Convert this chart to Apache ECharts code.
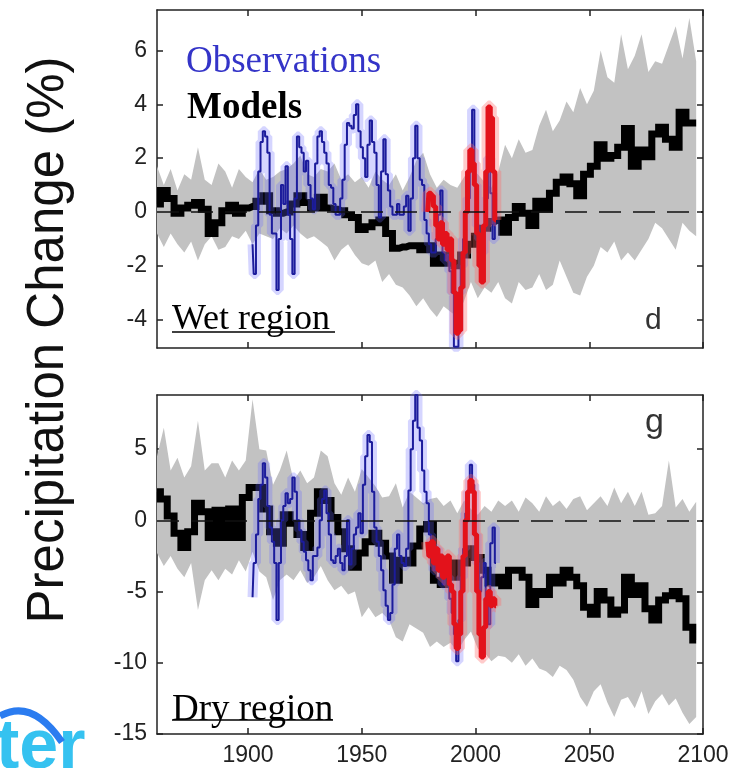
<!DOCTYPE html>
<html>
<head>
<meta charset="utf-8">
<script src="https://cdn.jsdelivr.net/npm/echarts@6.0.0/dist/echarts.min.js"></script>
<style>
html,body{margin:0;padding:0;background:#fff;}
#chart{width:739px;height:768px;}
</style>
</head>
<body>
<div id="chart"></div>
<script>
/* model years (3-yr steps) */
var years = [1860,1863,1866,1869,1872,1875,1878,1881,1884,1887,
    1890,1893,1896,1899,1902,1905,1908,1911,1914,1917,
    1920,1923,1926,1929,1932,1935,1938,1941,1944,1947,
    1950,1953,1956,1959,1962,1965,1968,1971,1974,1977,
    1980,1983,1986,1989,1992,1995,1998,2001,2004,2007,
    2010,2013,2016,2019,2022,2025,2028,2031,2034,2037,
    2040,2043,2046,2049,2052,2055,2058,2061,2064,2067,
    2070,2073,2076,2079,2082,2085,2088,2091,2094,2097];

/* wet region */
var wetModel = [0.3,0.8,0.5,-0.05,0.15,0.25,0.35,0.1,-0.8,-0.4,
    0.05,0.25,-0.05,0.15,0.2,0.4,0.6,0.05,-0.05,0.0,
    0.3,0.6,0.35,0.15,0.55,0.15,0.1,0.05,-0.1,-0.2,
    -0.65,-0.55,-0.4,-0.3,-0.8,-1.35,-1.3,-1.25,-1.25,-1.4,
    -1.25,-1.9,-1.6,-1.9,-2.0,-1.6,-1.2,-0.9,-0.6,-0.35,
    -0.3,-0.75,-0.2,0.2,-0.05,-0.5,0.4,0.1,0.7,1.1,
    1.3,1.05,0.6,1.4,1.7,2.5,2.0,2.1,2.4,3.1,
    1.7,2.3,2.05,2.9,3.15,2.7,2.4,3.7,3.3,3.3];
var wetHigh = [1.7,1.0,1.6,0.8,1.4,1.2,2.4,1.2,1.0,1.8,
    1.5,0.9,1.6,1.3,1.1,1.6,1.2,1.3,1.5,1.6,
    1.8,2.1,1.4,1.3,1.6,1.5,1.8,1.2,1.4,1.1,
    1.3,0.9,1.5,1.2,1.0,1.4,0.8,1.3,1.9,2.2,
    1.4,0.9,1.2,1.0,0.9,1.3,1.6,1.4,1.1,0.9,
    1.5,2.5,2.0,2.7,2.2,2.3,3.2,3.8,3.0,3.4,
    4.1,3.7,4.6,4.0,4.5,6.0,5.0,4.8,6.6,5.3,
    5.8,6.6,5.2,5.6,5.5,6.2,6.9,5.7,7.2,5.6];
var wetLow = [-0.8,-1.3,-0.8,-1.2,-1.5,-1.1,-1.8,-1.2,-0.9,-1.4,
    -1.3,-0.9,-1.0,-0.7,-1.2,-0.8,-0.9,-1.0,-0.6,-0.8,
    -0.5,-0.8,-1.0,-0.9,-1.1,-1.3,-1.8,-1.4,-1.2,-1.6,
    -1.9,-2.0,-1.8,-2.6,-2.3,-2.7,-2.8,-3.1,-3.5,-3.2,
    -3.6,-3.9,-3.5,-3.7,-3.9,-3.3,-2.6,-3.2,-2.8,-3.0,
    -2.6,-3.2,-3.4,-2.6,-2.9,-2.8,-2.3,-2.9,-2.7,-1.8,
    -2.4,-3.0,-3.1,-2.4,-2.0,-1.3,-1.5,-1.1,-1.8,-1.5,
    -1.8,-1.4,-1.0,-0.4,-0.6,-1.0,-1.4,-0.4,-0.7,-0.9];

/* observation years (yearly) */
var obsYears = [1902,1903,1904,1905,1906,1907,1908,1909,1910,1911,
    1912,1913,1914,1915,1916,1917,1918,1919,1920,1921,
    1922,1923,1924,1925,1926,1927,1928,1929,1930,1931,
    1932,1933,1934,1935,1936,1937,1938,1939,1940,1941,
    1942,1943,1944,1945,1946,1947,1948,1949,1950,1951,
    1952,1953,1954,1955,1956,1957,1958,1959,1960,1961,
    1962,1963,1964,1965,1966,1967,1968,1969,1970,1971,
    1972,1973,1974,1975,1976,1977,1978,1979,1980,1981,
    1982,1983,1984,1985,1986,1987,1988,1989,1990,1991,
    1992,1993,1994,1995,1996,1997,1998,1999,2000,2001,
    2002,2003,2004,2005,2006,2007,2008,2009];
var wetObs = [-1.2,-2.3,-0.5,1.5,2.6,3.0,2.8,2.2,-0.1,-0.8,
    -0.8,-2.9,-1.0,1.0,0.3,1.7,-0.1,-1.0,-2.3,0.5,
    2.8,2.4,2.2,1.5,1.9,1.0,0.5,0.1,1.8,2.8,
    3.0,2.6,2.2,1.8,1.0,0.9,0.3,-0.1,-0.1,0.5,
    1.2,2.5,3.3,3.2,3.1,3.6,4.0,3.0,2.4,2.0,
    1.3,2.5,3.4,2.6,2.2,1.0,-0.2,1.5,2.7,1.4,
    0.8,0.2,-0.1,-0.1,0.3,-0.1,-0.1,0.2,0.6,-0.7,
    0.5,2.0,3.2,2.0,1.2,1.0,-0.3,-0.8,-1.2,-1.5,
    -1.5,-1.0,-0.1,0.8,-1.5,-1.8,-1.6,-2.2,-3.0,-5.0,
    -5.0,-3.0,-2.0,-1.0,0.0,0.5,1.5,3.8,1.0,-0.5,
    -1.0,-1.5,-0.5,0.5,2.0,0.7,-1.0,0.0];

/* second observation set (red) */
var redYears = [1979,1980,1981,1982,1983,1984,1985,1986,1987,1988,
    1989,1990,1991,1992,1993,1994,1995,1996,1997,1998,
    1999,2000,2001,2002,2003,2004,2005,2006,2007,2008,2009];
var wetRed = [0.0,0.7,0.6,0.2,-0.5,-1.0,-0.4,-1.2,-0.8,-1.4,
    -1.0,-1.8,-3.0,-4.5,-4.4,-2.8,-1.5,0.0,1.5,2.3,
    1.8,1.0,-0.8,-2.0,-2.6,-0.5,1.5,3.9,3.5,1.5,-0.3];

/* dry region */
var dryModel = [2.0,1.5,0.3,-0.9,-1.9,-0.8,1.2,0.6,-1.2,0.7,
    -1.2,0.8,-1.2,1.6,2.3,2.3,0.8,-0.8,-1.6,0.4,
    -0.2,-1.0,-1.9,0.5,2.0,1.4,0.2,-0.8,-2.0,-3.3,
    -2.3,-1.5,-0.9,-1.6,-2.5,-4.2,-2.8,-3.0,-1.8,-0.6,
    -0.3,-4.2,-4.5,-3.0,-4.0,-3.0,-2.0,-2.6,-3.5,-4.4,
    -4.0,-4.6,-3.5,-3.5,-4.0,-5.9,-5.0,-5.2,-4.0,-4.4,
    -3.5,-4.0,-4.6,-6.1,-6.6,-5.0,-5.6,-6.6,-6.3,-4.0,
    -5.2,-4.6,-6.2,-7.0,-5.6,-5.3,-5.0,-5.5,-7.5,-8.4];
var dryHigh = [4.5,6.5,3.5,4.4,3.0,3.8,7.0,3.5,4.0,4.0,
    3.0,4.2,3.5,4.2,8.5,5.0,4.9,2.5,3.5,4.9,
    2.8,3.5,2.6,3.0,4.9,4.5,2.6,1.8,3.0,2.0,
    3.6,3.0,2.4,1.6,1.7,2.6,0.9,2.0,1.6,1.2,
    1.5,1.6,1.0,1.4,0.5,1.4,0.8,0.4,1.0,0.6,
    1.4,1.0,1.4,0.6,1.6,1.2,0.6,1.7,1.0,1.4,
    0.8,1.5,1.7,0.7,1.2,1.7,1.0,2.3,1.2,2.0,
    1.0,2.0,0.4,0.5,1.0,4.2,0.9,1.5,0.6,1.3];
var dryLow = [-2.3,-3.2,-2.5,-3.4,-4.0,-3.0,-6.3,-4.2,-3.5,-4.2,
    -3.4,-3.8,-2.8,-3.6,-2.2,-3.6,-4.0,-5.6,-4.2,-3.8,
    -4.2,-3.5,-4.4,-4.0,-3.2,-4.2,-4.9,-4.6,-5.2,-5.0,
    -6.8,-6.1,-6.8,-6.5,-7.0,-8.2,-8.5,-7.3,-7.6,-7.9,
    -8.9,-8.5,-8.9,-8.6,-9.2,-8.4,-7.8,-9.0,-9.3,-9.9,
    -9.5,-9.6,-10.0,-9.4,-10.2,-9.7,-10.4,-10.6,-11.0,-10.2,
    -10.5,-11.2,-12.4,-13.1,-12.0,-11.5,-12.8,-13.8,-12.6,-12.4,
    -13.2,-12.0,-13.6,-12.7,-12.2,-13.0,-12.5,-13.5,-14.3,-13.8];
var dryObs = [-5.4,-3.0,-1.0,1.5,2.5,4.0,3.0,1.0,-0.5,-1.5,
    -3.0,-7.0,-3.0,0.0,1.0,1.9,1.2,1.5,3.0,2.0,
    0.0,-0.7,-1.5,-2.2,-2.8,-3.5,-4.2,-2.5,-2.5,-1.9,
    0.0,1.5,2.1,0.5,-1.0,-2.8,-3.0,-2.5,-2.0,-3.0,
    -3.5,-2.5,0.0,-3.1,-2.0,-1.0,-0.5,0.5,-0.9,2.5,
    4.5,6.0,5.5,2.0,-0.5,-1.5,-2.5,-3.5,-4.9,-6.0,
    -7.0,-6.5,-4.5,-2.0,-1.0,-2.5,-3.0,-3.2,-2.0,2.1,
    5.0,7.0,8.8,6.5,5.6,3.5,2.0,1.2,-1.0,-2.5,
    -3.5,-2.0,-2.5,-4.0,-4.5,-3.5,-4.0,-5.5,-6.5,-8.0,
    -9.9,-7.0,-4.0,-2.0,0.5,2.0,3.9,2.5,-1.0,-3.0,
    -5.0,-4.0,-3.0,-5.5,-7.3,-1.6,-0.5,-3.0];
var dryRed = [-1.5,-2.5,-1.5,-3.0,-2.0,-3.5,-2.5,-4.0,-3.0,-2.5,
    -4.5,-5.0,-7.3,-9.0,-8.0,-5.0,-2.5,0.0,2.0,2.8,
    2.0,-1.0,-5.0,-8.0,-9.6,-7.5,-5.5,-5.0,-6.0,-5.5,-6.0];

/* ticks */
var xTicks = [1900,1950,2000,2050,2100];
var wetTicks = [-4,-2,0,2,4,6];
var dryTicks = [-15,-10,-5,0,5];

function pairs(xs, ys){
    return xs.map(function(x, i){ return [x, ys[i]]; });
}

var sans = '"Liberation Sans", Arial, sans-serif';
var serif = '"Liberation Serif", "Times New Roman", serif';
var tickFont = {fontSize: 23, fontFamily: sans, color: '#222', formatter: function(v){ return String(v); }};
var boxLine = {show: true, onZero: false, lineStyle: {color: '#222', width: 1.5}};

function xAx(grid, pos, labels){
    return {
        type: 'value', gridIndex: grid, position: pos, min: 1860, max: 2100,
        axisLine: boxLine,
        axisTick: {show: true, inside: true, length: 6, customValues: xTicks, lineStyle: {color: '#222', width: 1.5}},
        axisLabel: labels ? Object.assign({show: true, margin: 10, customValues: xTicks}, tickFont) : {show: false},
        splitLine: {show: false}
    };
}
function yAx(grid, pos, min, max, ticks, labels){
    return {
        type: 'value', gridIndex: grid, position: pos, min: min, max: max,
        axisLine: boxLine,
        axisTick: {show: true, inside: true, length: 6, customValues: ticks, lineStyle: {color: '#222', width: 1.5}},
        axisLabel: labels ? Object.assign({show: true, margin: 10, customValues: ticks}, tickFont) : {show: false},
        splitLine: {show: false}
    };
}

/* gray model spread: one jagged polygon through hi then lo, placed via the axes */
function bandItem(hi, lo){
    return function(params, api){
        var top = [], bot = [];
        for (var i = 0; i < years.length; i++) {
            top.push(api.coord([years[i], hi[i]]));
            bot.unshift(api.coord([years[i], lo[i]]));
        }
        return {type: 'polygon', shape: {points: top.concat(bot)}, style: {fill: '#c2c2c2'}};
    };
}

/* one panel = gray band + model + two observation lines + zero line */
function panel(idx, model, hi, lo, obs, red){
    var ax = {xAxisIndex: idx * 2, yAxisIndex: idx * 2};
    var base = {type: 'line', symbol: 'none', step: 'middle', silent: true};
    return [
        Object.assign({}, ax, {
            type: 'custom', z: 1, silent: true, data: [[years[0], lo[0]]],
            renderItem: bandItem(hi, lo)
        }),
        Object.assign({}, base, ax, {
            z: 2, data: pairs(years, model),
            lineStyle: {width: 7, color: '#000', join: 'miter'},
            markLine: {
                silent: true, symbol: ['none', 'none'], z: 10, animation: false,
                label: {show: false},
                lineStyle: {type: [22, 12], color: '#111', width: 1.5},
                data: [{yAxis: 0}]
            }
        }),
        Object.assign({}, base, ax, {
            z: 3, data: pairs(obsYears, obs),
            lineStyle: {width: 10, color: 'rgba(105,105,255,0.28)'}
        }),
        Object.assign({}, base, ax, {
            z: 4, data: pairs(obsYears, obs),
            lineStyle: {width: 2, color: '#1c1c9c'}
        }),
        Object.assign({}, base, ax, {
            z: 5, data: pairs(redYears, red),
            lineStyle: {width: 13, color: 'rgba(255,105,105,0.35)'}
        }),
        Object.assign({}, base, ax, {
            z: 6, data: pairs(redYears, red),
            lineStyle: {width: 5, color: '#e3121b'}
        })
    ];
}

var option = {
    backgroundColor: '#fff',
    animation: false,
    grid: [
        {left: 157, top: 10, width: 546, height: 338},
        {left: 157, top: 395, width: 546, height: 339}
    ],
    xAxis: [xAx(0, 'bottom', false), xAx(0, 'top', false), xAx(1, 'bottom', true), xAx(1, 'top', false)],
    yAxis: [
        yAx(0, 'left', -5.05, 7.5, wetTicks, true), yAx(0, 'right', -5.05, 7.5, wetTicks, false),
        yAx(1, 'left', -15, 8.8, dryTicks, true), yAx(1, 'right', -15, 8.8, dryTicks, false)
    ],
    series: panel(0, wetModel, wetHigh, wetLow, wetObs, wetRed)
        .concat(panel(1, dryModel, dryHigh, dryLow, dryObs, dryRed)),
    graphic: [
        {type: 'text', x: 49, y: 340, rotation: Math.PI / 2, z: 20,
            style: {text: 'Precipitation Change (%)', font: '51px ' + sans, fill: '#111',
                textAlign: 'center', textVerticalAlign: 'middle'}},
        {type: 'text', x: 186, y: 44, z: 20,
            style: {text: 'Observations', font: '37px ' + serif, fill: '#3434c8', textVerticalAlign: 'top'}},
        {type: 'text', x: 187, y: 90, z: 20,
            style: {text: 'Models', font: 'bold 37px ' + serif, fill: '#000', textVerticalAlign: 'top'}},
        {type: 'text', x: 172, y: 302, z: 20,
            style: {text: 'Wet region', font: '36px ' + serif, fill: '#000', textVerticalAlign: 'top'}},
        {type: 'line', z: 20, shape: {x1: 172, y1: 332, x2: 335, y2: 332}, style: {stroke: '#000', lineWidth: 1.5}},
        {type: 'text', x: 172, y: 692, z: 20,
            style: {text: 'Dry region', font: '37px ' + serif, fill: '#000', textVerticalAlign: 'top'}},
        {type: 'line', z: 20, shape: {x1: 172, y1: 720, x2: 333, y2: 720}, style: {stroke: '#000', lineWidth: 1.5}},
        {type: 'text', x: 645, y: 306, z: 20,
            style: {text: 'd', font: '30px ' + sans, fill: '#333', textVerticalAlign: 'top'}},
        {type: 'text', x: 645, y: 406, z: 20,
            style: {text: 'g', font: '34px ' + sans, fill: '#333', textVerticalAlign: 'top'}},
        /* cut-off logo in the corner */
        {type: 'text', x: -4, y: 714, z: 20,
            style: {text: 'ter', font: 'bold 70px ' + sans, textVerticalAlign: 'top', fill: '#35c2f0'}},
        {type: 'bezierCurve', z: 21,
            shape: {x1: 0, y1: 716, cpx1: 32, cpy1: 698, x2: 62, y2: 742},
            style: {stroke: '#2b7cf0', lineWidth: 7, fill: null}}
    ]
};

var myChart = echarts.init(document.getElementById('chart'));
myChart.setOption(option);
</script>
</body>
</html>
